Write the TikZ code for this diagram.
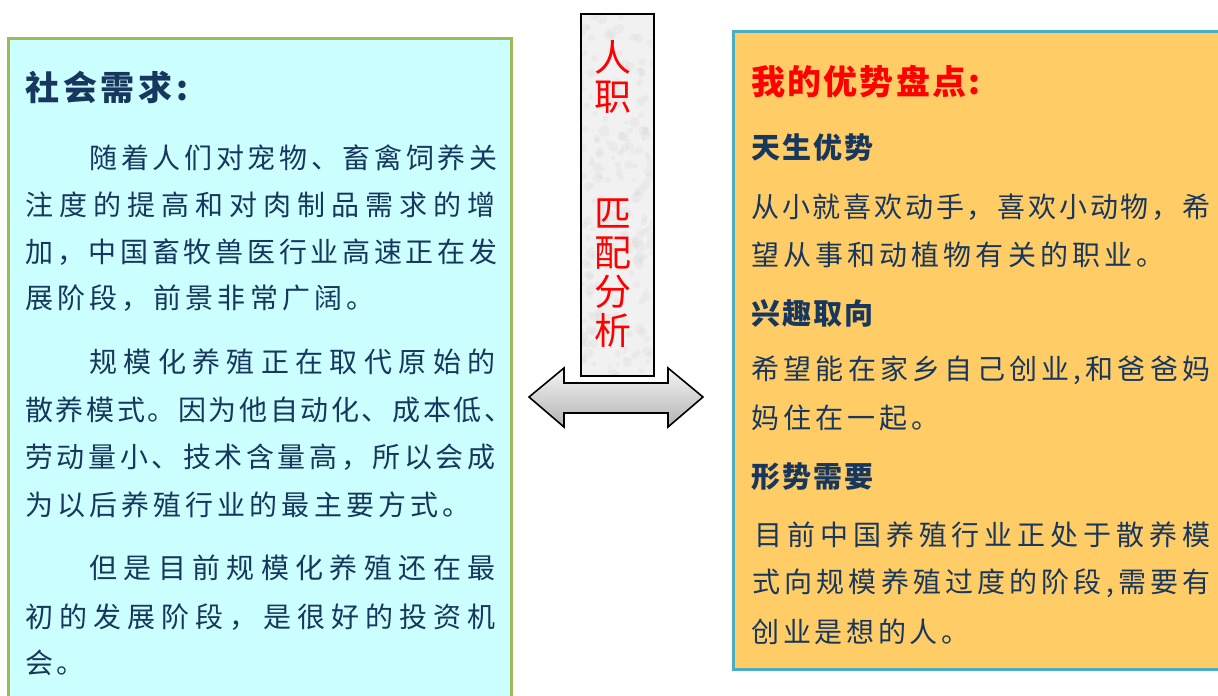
\documentclass[tikz,border=0pt]{standalone}
\usepackage{fontspec}
\newfontfamily\cjk{Noto Sans CJK SC}
\usetikzlibrary{positioning}

\definecolor{needfill}{HTML}{CCFFFF}
\definecolor{needline}{HTML}{9BBB59}
\definecolor{selffill}{HTML}{FFCC66}
\definecolor{selfline}{HTML}{4BACC6}
\definecolor{inkblue}{HTML}{17375E}

% one line of text, spread over a given width (in px)
\newdimen\pxu \pxu=0.5pt
\makeatletter
\def\spreadout#1#2{\hbox to #1\pxu{\spread@first#2\spread@end}}
\def\spread@first#1{#1\spread@next}
\def\spread@next#1{\ifx\spread@end#1\else\hfill#1\expandafter\spread@next\fi}
\def\spread@end{\spread@end}
\makeatother

\begin{document}
\begin{tikzpicture}[x=0.5pt,y=-0.5pt,
	bodyline/.style={anchor=west,inner sep=0pt,text=inkblue,
	                 font=\cjk\fontsize{14}{16}\selectfont},
	headline/.style={bodyline,font=\cjk\bfseries\fontsize{14.5}{17}\selectfont},
	titleline/.style={bodyline,font=\cjk\bfseries\fontsize{17}{20}\selectfont},
	vert/.style={align=center,inner sep=0pt,text=red,
	             font=\cjk\fontsize{18.5}{19.5}\selectfont},
	needbox/.style={draw=needline,fill=needfill,line width=1.5pt},
	selfbox/.style={draw=selfline,fill=selffill,line width=1.5pt},
	bar/.style={draw=black,line width=0.8pt},
	speck/.style={fill=gray!30,opacity=0.25},
	twoway/.style={draw=black,line width=0.8pt,line join=miter,
	               top color=gray!8,bottom color=gray!60}]

	\useasboundingbox (0,0) rectangle (1218,695);

	\draw[needbox] (8.5,38.5) rectangle (511.5,720);
	\draw[selfbox] (733.5,31.5) rectangle (1225,669);

	% grey bar with a light marbled look
	\fill[gray!11] (581,14) rectangle (654,376);
	\begin{scope}
		\clip (581,14) rectangle (654,376);
		\pgfmathsetseed{7}
		\foreach \i in {1,...,220}
			\fill[speck] (581+73*rnd,14+362*rnd) circle (2pt*rnd+0.8pt);
	\end{scope}
	\draw[bar] (581,14) rectangle (654,376);

	\draw[twoway] (529,397) -- (564,368) -- (564,383) -- (668,383) -- (668,368)
	  -- (703,397) -- (668,427) -- (668,413) -- (564,413) -- (564,427) -- cycle;

	% left box
	\node[titleline] (N0) at (25,87) {\spreadout{163}{社会需求:}};
	\node[bodyline] (N1) at (89,158) {\spreadout{408}{随着人们对宠物、畜禽饲养关}};
	\node[bodyline] (N2) at (25,205) {\spreadout{470}{注度的提高和对肉制品需求的增}};
	\node[bodyline] (N3) at (25,252) {\spreadout{472}{加，中国畜牧兽医行业高速正在发}};
	\node[bodyline] (N4) at (25,298) {\spreadout{349}{展阶段，前景非常广阔。}};
	\node[bodyline] (N5) at (89,362) {\spreadout{406}{规模化养殖正在取代原始的}};
	\node[bodyline] (N6) at (25,410) {\spreadout{487}{散养模式。因为他自动化、成本低、}};
	\node[bodyline] (N7) at (25,457) {\spreadout{470}{劳动量小、技术含量高，所以会成}};
	\node[bodyline] (N8) at (25,505) {\spreadout{445}{为以后养殖行业的最主要方式。}};
	\node[bodyline] (N9) at (89,568) {\spreadout{406}{但是目前规模化养殖还在最}};
	\node[bodyline] (N10) at (25,617) {\spreadout{470}{初的发展阶段，是很好的投资机}};
	\node[bodyline] (N11) at (25,663) {\spreadout{59}{会。}};

	% middle
	\node[vert] (pair) at (613,77) {人\\职};
	\node[vert] (analysis) at (613,273) {匹\\配\\分\\析};

	% right box
	\node[titleline,text=red] (S0) at (751,82) {\spreadout{229}{我的优势盘点:}};
	\node[headline] (H1) at (751,148) {\spreadout{122}{天生优势}};
	\node[bodyline] (S1) at (751,207) {\spreadout{459}{从小就喜欢动手，喜欢小动物，希}};
	\node[bodyline] (S2) at (751,255) {\spreadout{413}{望从事和动植物有关的职业。}};
	\node[headline] (H2) at (751,313) {\spreadout{122}{兴趣取向}};
	\node[bodyline] (S3) at (751,370) {\spreadout{459}{希望能在家乡自己创业,和爸爸妈}};
	\node[bodyline] (S4) at (751,418) {\spreadout{188}{妈住在一起。}};
	\node[headline] (H3) at (751,477) {\spreadout{122}{形势需要}};
	\node[bodyline] (S5) at (754,535) {\spreadout{456}{目前中国养殖行业正处于散养模}};
	\node[bodyline] (S6) at (752,583) {\spreadout{458}{式向规模养殖过度的阶段,需要有}};
	\node[bodyline] (S7) at (751,632) {\spreadout{218}{创业是想的人。}};
\end{tikzpicture}
\end{document}
